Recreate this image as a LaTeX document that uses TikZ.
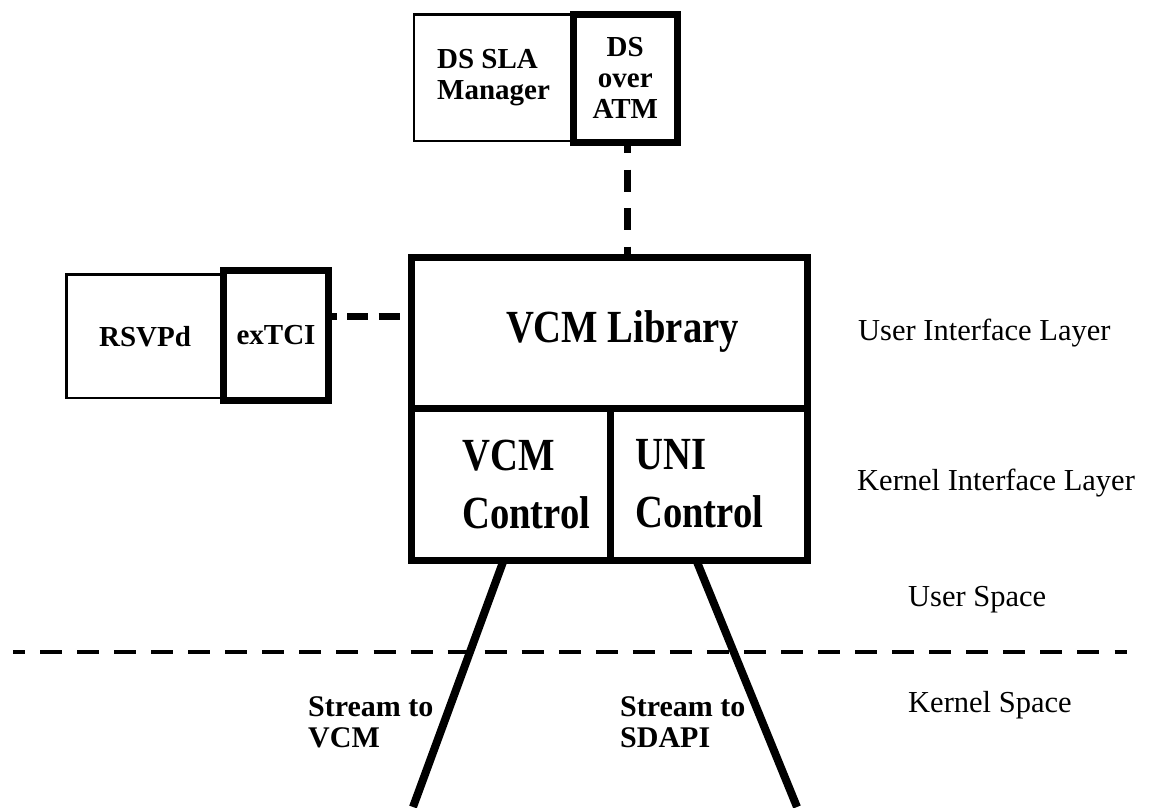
\documentclass[tikz,border=0pt]{standalone}
\usepackage{fontspec}
\setmainfont{Liberation Serif}
\newfontfamily\narrowserif[FakeStretch=0.84]{Liberation Serif}

\tikzset{
  thinbox/.style={draw, line width=2.5pt, inner sep=0pt, outer sep=0pt},
  thickbox/.style={draw, line width=7pt, inner sep=0pt, outer sep=0pt},
  boxlabel/.style={font=\fontsize{29}{31}\selectfont\bfseries},
  biglabel/.style={font=\narrowserif\fontsize{46}{58}\selectfont\bfseries, inner sep=0pt, align=left},
  streamlabel/.style={font=\fontsize{30}{31}\selectfont\bfseries, inner sep=0pt, align=left, anchor=west},
  layerlabel/.style={font=\fontsize{30.5}{33}\selectfont, inner sep=0pt, anchor=base west},
  vlinkdash/.style={line width=7.5pt, dash pattern=on 22pt off 16.5pt, dash phase=11pt},
  hlinkdash/.style={line width=7pt, dash pattern=on 21pt off 10.5pt, dash phase=13pt},
  stream/.style={line width=8pt},
  spacedivider/.style={line width=4pt, dash pattern=on 22pt off 15.05pt, dash phase=10pt}
}

\begin{document}
\begin{tikzpicture}[x=1pt, y=-1pt]
  \fill[white] (0,0) rectangle (1149,808);
  \useasboundingbox (0,0) rectangle (1149,808);

  % user level daemons
  \node[thinbox, boxlabel, align=left, minimum width=159pt, minimum height=126.5pt]
    (slamgr) at (493.5,77.75) {DS SLA\\Manager};
  \node[thickbox, boxlabel, align=center, minimum width=103.5pt, minimum height=127.5pt]
    (dsatm) at (625.25,78.25) {DS\\over\\ATM};

  \node[thinbox, boxlabel, minimum width=157pt, minimum height=123.5pt]
    (rsvpd) at (145,336.25) {RSVPd};
  \node[thickbox, boxlabel, minimum width=105pt, minimum height=130pt]
    (extci) at (276,335) {exTCI};

  % VCM library and the two kernel interface controls
  \node[thickbox, minimum width=395.5pt, minimum height=151pt] (libtop) at (609.25,332.5) {};
  \node[thickbox, minimum width=198.5pt, minimum height=152pt] (vcmctl) at (510.75,484) {};
  \node[thickbox, minimum width=197pt, minimum height=152pt] (unictl) at (708.5,484) {};

  \node[biglabel, anchor=base] (liblabel) at (622.5,342) {VCM Library};
  \node[biglabel, anchor=west] (vcmlabel) at (462,484) {VCM\\Control};
  \node[biglabel, anchor=west] (unilabel) at (635,484) {UNI\\Control};

  % dashed links to the library
  \draw[vlinkdash]
    ([xshift=2pt]dsatm.south) -- ([xshift=2pt]dsatm.south |- libtop.north);
  \draw[hlinkdash]
    ([yshift=19pt]extci.east) -- ([yshift=19pt]extci.east -| libtop.west);

  % user / kernel boundary
  \coordinate (divleft) at (13,652);
  \coordinate (divright) at (1127,652);
  \draw[spacedivider] (divleft) -- (divright);

  % streams into the kernel
  \coordinate (vcmstreamend) at (413,807);
  \coordinate (sdapistreamend) at (797,807);
  \draw[stream] ([xshift=-7pt]vcmctl.south) -- (vcmstreamend);
  \draw[stream] ([xshift=-12.3pt]unictl.south) -- (sdapistreamend);

  \node[streamlabel] (vcmstream) at (308,722.5) {Stream to\\VCM};
  \node[streamlabel] (sdapistream) at (620,722.5) {Stream to\\SDAPI};

  % layer annotations
  \node[layerlabel] (uil) at (858,340) {User Interface Layer};
  \node[layerlabel] (kil) at (857,490) {Kernel Interface Layer};
  \node[layerlabel] (uspace) at (908,606) {User Space};
  \node[layerlabel] (kspace) at (908,712) {Kernel Space};
\end{tikzpicture}
\end{document}
